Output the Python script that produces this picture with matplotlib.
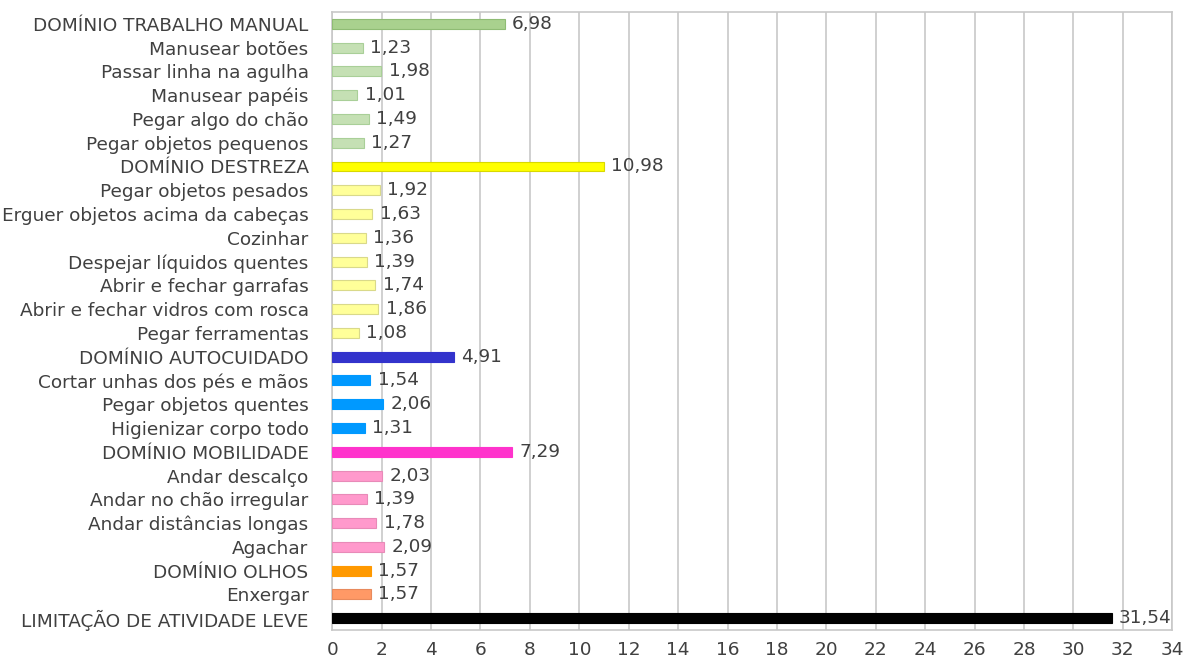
import numpy as np
import matplotlib.pyplot as plt

labels = ['DOMÍNIO TRABALHO MANUAL', 'Manusear botões', 'Passar linha na agulha',
          'Manusear papéis', 'Pegar algo do chão', 'Pegar objetos pequenos',
          'DOMÍNIO DESTREZA', 'Pegar objetos pesados', 'Erguer objetos acima da cabeças',
          'Cozinhar', 'Despejar líquidos quentes', 'Abrir e fechar garrafas',
          'Abrir e fechar vidros com rosca', 'Pegar ferramentas', 'DOMÍNIO AUTOCUIDADO',
          'Cortar unhas dos pés e mãos', 'Pegar objetos quentes', 'Higienizar corpo todo',
          'DOMÍNIO MOBILIDADE', 'Andar descalço', 'Andar no chão irregular',
          'Andar distâncias longas', 'Agachar', 'DOMÍNIO OLHOS', 'Enxergar',
          'LIMITAÇÃO DE ATIVIDADE LEVE']
values = [6.98, 1.23, 1.98, 1.01, 1.49, 1.27,
          10.98, 1.92, 1.63, 1.36, 1.39, 1.74, 1.86, 1.08,
          4.91, 1.54, 2.06, 1.31,
          7.29, 2.03, 1.39, 1.78, 2.09,
          1.57, 1.57,
          31.54]
colors = ['#a9d18e'] + ['#c5e0b4'] * 5 + \
         ['#ffff00'] + ['#ffff99'] * 7 + \
         ['#3333cc'] + ['#0099ff'] * 3 + \
         ['#ff33cc'] + ['#ff99cc'] * 4 + \
         ['#ff9900', '#ff9966', '#000000']
edges = ['#8fbc74'] + ['#a9cf98'] * 5 + \
        ['#d9d900'] + ['#d9d98a'] * 7 + \
        ['#3333cc'] + ['#0099ff'] * 3 + \
        ['#ff33cc'] + ['#e88ab8'] * 4 + \
        ['#ff9900', '#e88a5c', '#000000']

fig = plt.figure(figsize=(11.95, 6.64), dpi=100)
ax = fig.add_axes([0.278, 0.051, 0.703, 0.931])

y = np.arange(len(labels))
ax.barh(y, values, height=0.42, color=colors, edgecolor=edges, linewidth=0.8, zorder=3)
ax.set_ylim(len(labels) - 0.5, -0.5)
ax.set_xlim(0, 34)
ax.set_xticks(np.arange(0, 35, 2))
ax.set_yticks(y)
ax.set_yticklabels(labels)

txt = '#404040'
fs = 13.3
ax.tick_params(axis='both', length=0, colors=txt, labelsize=fs)
ax.tick_params(axis='x', pad=8)
ax.tick_params(axis='y', pad=17)

for yi, v in zip(y, values):
    ax.text(v + 0.3, yi, f'{v:.2f}'.replace('.', ','), va='center', ha='left',
            fontsize=fs, color=txt, zorder=4)

ax.grid(axis='x', color='#c8c8c8', linewidth=1.2, zorder=0)
for s in ax.spines.values():
    s.set_color('#c8c8c8')
    s.set_linewidth(1.2)

fig.savefig('out.png', dpi=100)
